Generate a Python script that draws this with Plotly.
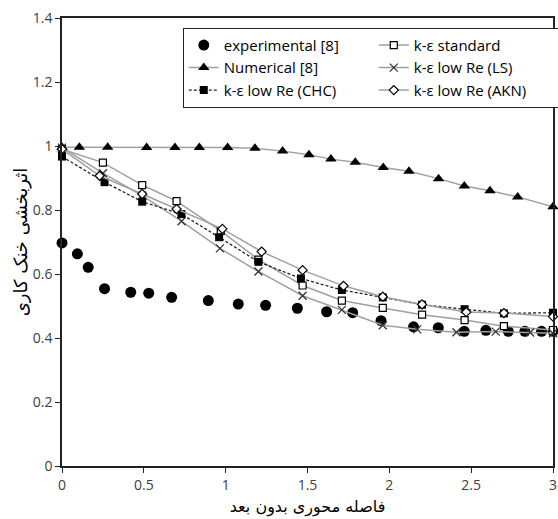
import plotly.graph_objects as go

# Experimental data [8]
exp_x = [0, 0.094, 0.16, 0.26, 0.42, 0.53, 0.67, 0.894, 1.077, 1.244, 1.438, 1.617,
         1.776, 1.949, 2.148, 2.299, 2.458, 2.59, 2.727, 2.828, 2.93, 3.0]
exp_y = [0.697, 0.663, 0.621, 0.554, 0.543, 0.54, 0.527, 0.517, 0.506, 0.502, 0.493, 0.482,
         0.479, 0.454, 0.435, 0.432, 0.421, 0.424, 0.421, 0.421, 0.421, 0.421]

# Numerical results [8]
num_x = [0, 0.106, 0.279, 0.517, 0.69, 0.839, 1.012, 1.179, 1.348, 1.509, 1.643, 1.792,
         1.963, 2.12, 2.301, 2.458, 2.615, 2.784, 3.0]
num_y = [0.996, 0.996, 0.996, 0.995, 0.995, 0.995, 0.995, 0.993, 0.984, 0.973, 0.959, 0.949,
         0.933, 0.921, 0.898, 0.875, 0.86, 0.841, 0.81]

# k-epsilon standard
std_x = [0, 0.25, 0.49, 0.70, 0.97, 1.2, 1.47, 1.71, 1.96, 2.2, 2.46, 2.7, 3.0]
std_y = [0.99, 0.948, 0.878, 0.828, 0.735, 0.645, 0.564, 0.517, 0.494, 0.473, 0.456, 0.437, 0.425]

# k-epsilon low Re (LS)
ls_x = [0, 0.25, 0.49, 0.73, 0.965, 1.2, 1.47, 1.71, 1.96, 2.17, 2.41, 2.65, 2.86, 3.0]
ls_y = [0.995, 0.915, 0.845, 0.765, 0.68, 0.608, 0.532, 0.488, 0.44, 0.427, 0.418, 0.42, 0.417, 0.415]

# k-epsilon low Re (CHC)
chc_x = [0, 0.26, 0.49, 0.73, 0.96, 1.2, 1.46, 1.71, 1.96, 2.2, 2.46, 2.7, 3.0]
chc_y = [0.967, 0.887, 0.826, 0.787, 0.715, 0.638, 0.586, 0.55, 0.527, 0.504, 0.49, 0.477, 0.479]

# k-epsilon low Re (AKN)
akn_x = [0, 0.23, 0.49, 0.70, 0.98, 1.22, 1.47, 1.72, 1.96, 2.2, 2.47, 2.7, 3.0]
akn_y = [0.99, 0.907, 0.85, 0.803, 0.741, 0.67, 0.612, 0.563, 0.529, 0.505, 0.481, 0.478, 0.467]

x_ticks = [0, 0.5, 1, 1.5, 2, 2.5, 3]
x_tick_text = ["0", "0.5", "1", "1.5", "2", "2.5", "3"]
y_ticks = [0, 0.2, 0.4, 0.6, 0.8, 1, 1.2, 1.4]
y_tick_text = ["0", "0.2", "0.4", "0.6", "0.8", "1", "1.2", "1.4"]

x_title = "فاصله محوری بدون بعد"
y_title = "اثربخشی خنک کاری"

GRAY = "#a0a0a0"
BLACK = "#000000"

fig = go.Figure()

fig.add_trace(go.Scatter(
    x=exp_x, y=exp_y, mode="markers", name="experimental [8]",
    marker=dict(symbol="circle", size=11, color=BLACK), cliponaxis=False))

fig.add_trace(go.Scatter(
    x=std_x, y=std_y, mode="lines+markers", name="k-ε standard",
    line=dict(color=GRAY, width=1.5),
    marker=dict(symbol="square", size=7, color="white", line=dict(color=BLACK, width=1.2)),
    cliponaxis=False))

fig.add_trace(go.Scatter(
    x=num_x, y=num_y, mode="lines+markers", name="Numerical [8]",
    line=dict(color=GRAY, width=1.5),
    marker=dict(symbol="triangle-up", size=10, color=BLACK), cliponaxis=False))

fig.add_trace(go.Scatter(
    x=ls_x, y=ls_y, mode="lines+markers", name="k-ε low Re (LS)",
    line=dict(color=GRAY, width=1.5),
    marker=dict(symbol="x-thin", size=8, color=BLACK, line=dict(color="#333333", width=1.3)),
    cliponaxis=False))

fig.add_trace(go.Scatter(
    x=chc_x, y=chc_y, mode="lines+markers", name="k-ε low Re (CHC)",
    line=dict(color="#222222", width=1.3, dash="3px,2px"),
    marker=dict(symbol="square", size=8, color=BLACK), cliponaxis=False))

fig.add_trace(go.Scatter(
    x=akn_x, y=akn_y, mode="lines+markers", name="k-ε low Re (AKN)",
    line=dict(color=GRAY, width=1.5),
    marker=dict(symbol="diamond", size=7, color="white", line=dict(color=BLACK, width=1.2)),
    cliponaxis=False))

tick_font = dict(family="Open Sans, Liberation Sans, sans-serif", size=14, color="#404040")
x_title_font = dict(family="DejaVu Sans, sans-serif", size=16, color="#000000")
y_title_font = dict(family="DejaVu Sans, sans-serif", size=18, color="#000000")

fig.update_layout(
    width=558, height=519,
    margin=dict(l=62, r=5, t=18, b=53, autoexpand=False),
    paper_bgcolor="white", plot_bgcolor="white",
    showlegend=True,
    legend=dict(
        orientation="h", x=0.246, y=0.978, xanchor="left", yanchor="top",
        entrywidth=145, entrywidthmode="pixels", traceorder="normal",
        bordercolor="#222222", borderwidth=1, bgcolor="white",
        font=dict(family="Open Sans, Liberation Sans, sans-serif", size=15, color="#000000"),
        itemwidth=30, tracegroupgap=0,
    ),
    xaxis=dict(
        range=[0, 3], tickvals=x_ticks, ticktext=x_tick_text,
        showgrid=False, zeroline=False,
        showline=True, linecolor="#222222", linewidth=1.5, mirror=True,
        ticks="outside", ticklen=5, tickcolor="#222222", tickwidth=1,
        tickfont=tick_font,
        title=dict(text=x_title, font=x_title_font, standoff=8),
    ),
    yaxis=dict(
        range=[0, 1.4], tickvals=y_ticks, ticktext=y_tick_text,
        showgrid=False, zeroline=False,
        showline=True, linecolor="#222222", linewidth=1.5, mirror=True,
        ticks="outside", ticklen=5, tickcolor="#222222", tickwidth=1,
        tickfont=tick_font,
        title=dict(text=y_title, font=y_title_font, standoff=0),
    ),
)

fig.write_html("out.html")
